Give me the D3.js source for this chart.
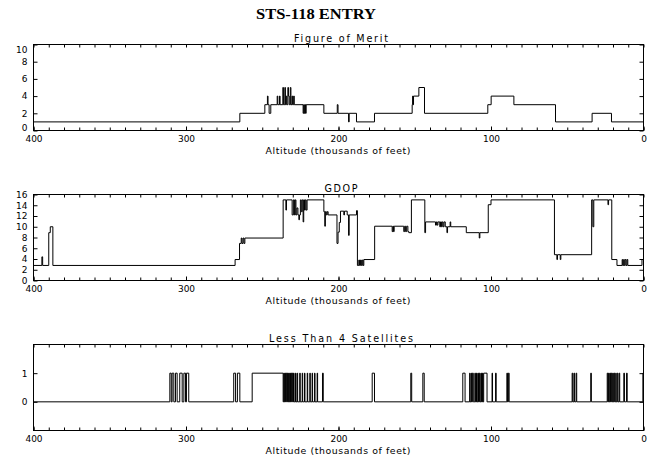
<!DOCTYPE html>
<html><head><meta charset="utf-8">
<script src="https://cdn.jsdelivr.net/npm/d3@7"></script>
<style>body{margin:0;background:#fff}svg{display:block}</style>
</head><body>
<svg id="c" width="659" height="458"></svg>
<script>
// ---- tick labels ----
const xTickValues = [400, 300, 200, 100, 0];
const fomTickValues = [0, 2, 4, 6, 8, 10];
const gdopTickValues = [0, 2, 4, 6, 8, 10, 12, 14, 16];
const satTickValues = [0, 1];

// ---- Figure of Merit: altitude where each level starts, and level ----
const fomAlt = [400, 264.7, 248.3, 246.6, 246.2, 245.5, 244.4, 240.2, 239.8, 238.7, 238.3, 236.5, 236.1, 235.2, 234.8, 234.3, 233.9, 233.2, 232.8, 232.3, 231.6, 231.2, 230.5, 230.1, 229.4, 229.0,
  223.2, 222.8, 222.4, 222.0, 221.6, 221.2, 209.6, 200.8, 200.3, 193.4, 193.0, 188.2, 176.4, 151.7, 151.4, 151.1, 150.8, 147.3, 143.6, 102.1, 99.9, 85.0, 57.7, 33.7, 21.0];
const fomVal = [1, 2, 3, 4, 3, 2, 3, 4, 3, 4, 3, 5, 3, 5, 3, 4, 3, 5, 4, 3, 5, 3, 4, 3, 4, 3,
  2, 3, 2, 3, 2, 3, 2, 3, 2, 1, 2, 1, 2, 3, 4, 3, 4, 5, 2, 3, 4, 3, 1, 2, 1];

// ---- GDOP ----
const gdopAlt = [400, 394.5, 394.0, 390.0, 389.0, 387.3, 267.8, 264.9, 263.8, 263.3, 262.6, 262.0, 261.4,
  236.3, 234.5, 234.1, 230.4, 229.6, 228.9, 228.4, 227.9, 227.3, 226.6, 226.0, 225.6, 225.0, 224.4, 223.8, 223.2, 222.8, 222.3, 221.8, 221.2, 220.6,
  209.6, 209.0, 208.6, 208.0, 207.4, 206.8, 201.0, 200.3, 199.5, 198.7, 196.5, 196.1, 194.3, 193.4, 193.0, 188.2, 187.6,
  186.7, 186.2, 185.6, 185.0, 184.4, 183.9, 183.4, 176.3, 164.8, 164.3, 163.9, 163.5, 157.2, 156.6, 156.0, 155.3, 154.5, 153.9, 152.2,
  143.4, 142.9, 136.4, 135.8, 135.3, 134.8, 133.6, 133.1, 132.5, 132.0, 131.4, 130.8, 130.0, 128.9, 128.5, 126.8, 126.4, 116.2, 107.7, 107.3,
  101.8, 100.0, 58.4, 56.8, 56.4, 54.6, 54.2, 34.0, 33.2, 32.6, 23.3, 22.9, 20.8, 17.4, 14.0, 13.6, 13.0, 12.6, 12.0, 11.4, 10.8, 10.3, 1.0];
const gdopVal = [2.8, 4.4, 2.8, 8.9, 10.0, 2.8, 3.9, 6.9, 7.9, 6.9, 7.9, 6.9, 7.9,
  15, 13.1, 15, 12.2, 15, 12.2, 15, 12.2, 13.5, 12.2, 11.3, 12.2, 15, 12.8, 15, 10.9, 15, 13.1, 15, 13.1, 15,
  12.8, 10.1, 12.8, 12.2, 12.8, 12.2, 6.9, 9.0, 10.8, 12.9, 12.2, 12.9, 12.2, 8.4, 12.2, 13.0, 2.8,
  3.8, 2.8, 3.8, 2.8, 3.8, 2.8, 3.9, 10.1, 9.1, 10.1, 9.1, 10.1, 9.1, 10.1, 9.1, 10.1, 9.1, 8.9, 15,
  8.9, 10.9, 10.3, 10.9, 10.3, 10.9, 10.0, 10.9, 10.0, 10.9, 10.0, 10.9, 10.0, 8.9, 10.0, 10.9, 10.0, 8.9, 7.9, 8.9,
  14.1, 15, 4.8, 3.9, 4.8, 3.9, 4.8, 15, 10, 15, 14.1, 15, 3.9, 2.8, 3.9, 2.8, 3.9, 2.8, 3.9, 2.8, 3.9, 2.8, 3.9];

// ---- Less than 4 satellites (0 / 1) ----
const satAlt = [400, 310.6, 309.7, 309.1, 308.0, 306.9, 305.8, 304.1, 302.5, 301.4, 300.3, 299.7, 298.2,
  268.7, 267.5, 266.3, 264.7, 256.6,
  236.3, 235.9, 235.5, 235.1, 234.7, 234.3, 233.9, 233.5, 233.1, 232.7, 232.3, 231.9, 231.5, 231.1, 230.7, 230.3, 229.9, 229.5, 229.1,
  228.2, 227.9, 227.1, 226.8, 225.4, 225.1, 223.8, 223.5, 222.3, 222.0, 220.5, 220.2, 218.8, 218.5, 217.3, 217.0, 215.7, 215.4, 214.0, 213.7, 210.5, 210.0,
  177.9, 176.4, 152.6, 152.0, 144.7, 143.8,
  118.5, 117.0, 114.0, 113.7, 113.0, 112.7, 112.2, 111.6, 110.6, 110.2, 109.5, 109.2, 108.6, 108.2, 107.6, 107.2, 106.6, 106.2, 105.6, 105.3, 104.8, 102.6,
  99.3, 99.0, 97.0, 96.6, 89.6, 89.2, 88.6, 88.1,
  46.8, 46.4, 45.6, 45.2, 44.2, 43.8, 34.6, 34.2,
  23.8, 23.4, 22.9, 22.5, 22.0, 21.6, 21.1, 20.7, 20.2, 19.8, 19.3, 18.9, 18.2, 17.9, 17.2, 16.8, 16.0, 15.6,
  12.9, 12.5, 11.1, 10.7, 0.4];
const satVal = [0, 1, 0, 1, 0, 1, 0, 1, 0, 1, 0, 1, 0,
  1, 0, 1, 0, 1,
  0, 1, 0, 1, 0, 1, 0, 1, 0, 1, 0, 1, 0, 1, 0, 1, 0, 1, 0,
  1, 0, 1, 0, 1, 0, 1, 0, 1, 0, 1, 0, 1, 0, 1, 0, 1, 0, 1, 0, 1, 0,
  1, 0, 1, 0, 1, 0,
  1, 0, 1, 0, 1, 0, 1, 0, 1, 0, 1, 0, 1, 0, 1, 0, 1, 0, 1, 0, 1, 0,
  1, 0, 1, 0, 1, 0, 1, 0,
  1, 0, 1, 0, 1, 0, 1, 0,
  1, 0, 1, 0, 1, 0, 1, 0, 1, 0, 1, 0, 1, 0, 1, 0, 1, 0,
  1, 0, 1, 0, 1];

const FONT = "'DejaVu Sans', sans-serif";
const svg = d3.select('#c');
svg.append('rect').attr('width', 659).attr('height', 458).attr('fill', '#fff');

svg.append('text').attr('x', 316).attr('y', 18.5).attr('text-anchor', 'middle')
  .attr('font-family', "'Liberation Serif', serif").attr('font-weight', 'bold').attr('font-size', 14.5)
  .attr('textLength', 120).attr('lengthAdjust', 'spacingAndGlyphs').text('STS-118 ENTRY');

const L = 33.5, R = 643.5, H = 86;
const x = d3.scaleLinear().domain([400, 0]).range([L, R]);
const minorX = d3.range(0, 401, 10);

function panel(idx, top, yDom, yTicks, alts, vals, title, titleLen, shiftEnds) {
  const y = d3.scaleLinear().domain(yDom).range([top + H, top]);
  const g = svg.append('g');
  const cid = 'clip' + idx;
  svg.append('clipPath').attr('id', cid).append('rect')
    .attr('x', L).attr('y', top).attr('width', R - L).attr('height', H);

  const pts = alts.map((a, i) => [a, vals[i]]);
  pts.push([0, vals[vals.length - 1]]);
  g.append('path').attr('clip-path', `url(#${cid})`)
    .attr('d', d3.line().x(d => x(d[0])).y(d => y(d[1])).curve(d3.curveStepAfter)(pts))
    .attr('fill', 'none').attr('stroke', '#000').attr('stroke-width', 1);

  const mb = g.append('g').attr('transform', `translate(0,${top + H})`)
    .call(d3.axisBottom(x).tickValues(minorX).tickSizeInner(-3).tickSizeOuter(0).tickFormat(''));
  const mt = g.append('g').attr('transform', `translate(0,${top})`)
    .call(d3.axisTop(x).tickValues(minorX).tickSizeInner(-3).tickSizeOuter(0).tickFormat(''));
  const xb = g.append('g').attr('transform', `translate(0,${top + H})`)
    .call(d3.axisBottom(x).tickValues(xTickValues).tickSizeInner(-4).tickSizeOuter(0).tickPadding(5).tickFormat(d3.format('d')));
  const yl = g.append('g').attr('transform', `translate(${L},0)`)
    .call(d3.axisLeft(y).tickValues(yTicks).tickSizeInner(-4).tickSizeOuter(0).tickPadding(6).tickFormat(d3.format('d')));
  const yr = g.append('g').attr('transform', `translate(${R},0)`)
    .call(d3.axisRight(y).tickValues(yTicks).tickSizeInner(-4).tickSizeOuter(0).tickFormat(''));
  [mb, mt, xb, yl, yr].forEach(a => {
    a.select('.domain').remove();
    a.selectAll('line').attr('stroke', '#000');
    a.selectAll('text').attr('font-family', FONT).attr('font-size', 9).attr('fill', '#000');
  });
  if (shiftEnds) {
    yl.selectAll('text').each(function (d) {
      if (d === yDom[1]) d3.select(this).attr('dy', '0.85em');
      if (d === yDom[0]) d3.select(this).attr('dy', '0em');
    });
  }

  g.append('rect').attr('x', L).attr('y', top).attr('width', R - L).attr('height', H)
    .attr('fill', 'none').attr('stroke', '#000').attr('stroke-width', 1);

  svg.append('text').attr('x', 341).attr('y', top - 3).attr('text-anchor', 'middle')
    .attr('font-family', FONT).attr('font-size', 9.6).attr('textLength', titleLen)
    .attr('lengthAdjust', 'spacing').text(title);
  svg.append('text').attr('x', 338).attr('y', top + H + 23).attr('text-anchor', 'middle')
    .attr('font-family', FONT).attr('font-size', 9.4).attr('textLength', 145)
    .attr('lengthAdjust', 'spacing').text('Altitude (thousands of feet)');
}

panel(0, 44.5, [0, 10], fomTickValues, fomAlt, fomVal, 'Figure of Merit', 94, true);
panel(1, 194.5, [0, 16], gdopTickValues, gdopAlt, gdopVal, 'GDOP', 33, false);
panel(2, 344.5, [-1, 2], satTickValues, satAlt, satVal, 'Less Than 4 Satellites', 144, false);
</script>
</body></html>
